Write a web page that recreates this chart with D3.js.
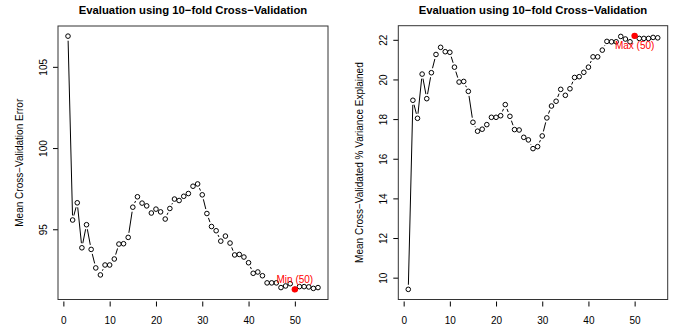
<!DOCTYPE html>
<html>
<head>
<meta charset="utf-8">
<script src="https://cdn.jsdelivr.net/npm/d3@7"></script>
<style>
  html, body { margin: 0; padding: 0; background: #fff; }
  svg { display: block; font-family: "Liberation Sans", Arial, Helvetica, sans-serif; }
</style>
</head>
<body>
<svg id="chart" width="678" height="327"></svg>
<script>
// Number of components used in the model (1..55)
const components = d3.range(1, 56);

// Mean cross-validation error for each number of components
const cvError = [106.89, 95.57, 96.63, 93.86, 95.28, 93.76, 92.62, 92.19, 92.80, 92.80,
  93.17, 94.09, 94.11, 94.50, 96.36, 97.00, 96.61, 96.44, 96.00, 96.24,
  96.07, 95.63, 96.28, 96.86, 96.77, 97.03, 97.20, 97.65, 97.79, 97.12,
  95.97, 95.17, 94.91, 94.27, 94.58, 94.15, 93.42, 93.45, 93.29, 92.94,
  92.29, 92.37, 92.14, 91.70, 91.70, 91.70, 91.41, 91.51, 91.65, 91.30,
  91.47, 91.47, 91.45, 91.36, 91.41];

// Mean cross-validated % variance explained for each number of components
const cvVarExplained = [9.41, 18.95, 18.04, 20.27, 19.03, 20.34, 21.26, 21.62, 21.40, 21.37,
  20.62, 19.87, 19.90, 19.40, 17.84, 17.39, 17.49, 17.72, 18.09, 18.09,
  18.17, 18.73, 18.14, 17.47, 17.45, 17.08, 16.95, 16.51, 16.61, 17.15,
  18.06, 18.66, 18.90, 19.50, 19.20, 19.53, 20.10, 20.14, 20.36, 20.62,
  21.14, 21.14, 21.48, 21.92, 21.90, 21.90, 22.17, 22.04, 21.90, 22.20,
  22.07, 22.07, 22.07, 22.12, 22.10];

const xTicks = [0, 10, 20, 30, 40, 50];
const errorTicks = [95, 100, 105];
const varTicks = [10, 12, 14, 16, 18, 20, 22];

const titleText = "Evaluation using 10\u2212fold Cross\u2212Validation";
const errorLabel = "Mean Cross\u2212Validation Error";
const varLabel = "Mean Cross\u2212Validated % Variance Explained";

const svg = d3.select("#chart");

// Pad a domain by 4% on each side, like R's default axis style
function padded(ext) {
  const r = ext[1] - ext[0];
  return [ext[0] - 0.04 * r, ext[1] + 0.04 * r];
}

function panel(opts) {
  const { left, right, top, bottom, values, yTicks, yLabel, mark, markText, markAbove } = opts;
  const g = svg.append("g");

  const x = d3.scaleLinear().domain(padded(d3.extent(components))).range([left, right]);
  const y = d3.scaleLinear().domain(padded(d3.extent(values))).range([bottom, top]);

  // title
  g.append("text")
    .attr("x", (left + right) / 2).attr("y", 14)
    .attr("text-anchor", "middle")
    .style("font-weight", "bold").style("font-size", "11.3px")
    .text(titleText);

  // x axis
  const xa = g.append("g").attr("transform", `translate(0,${bottom + 2})`)
    .call(d3.axisBottom(x).tickValues(xTicks).tickSize(5).tickPadding(10).tickFormat(d3.format("d")));
  xa.select(".domain").remove();
  xa.selectAll("text").style("font-size", "10px").attr("fill", "#000").style("font-family", "inherit");
  xa.selectAll("line").attr("stroke", "#000");

  // y axis with labels parallel to the axis
  const ya = g.append("g").attr("transform", `translate(${left},0)`)
    .call(d3.axisLeft(y).tickValues(yTicks).tickSize(5).tickFormat(d3.format("d")));
  ya.select(".domain").remove();
  ya.selectAll("line").attr("stroke", "#000");
  ya.selectAll("text")
    .attr("x", null).attr("dy", null)
    .attr("transform", "translate(-15,0) rotate(-90)")
    .attr("text-anchor", "middle")
    .attr("dominant-baseline", "central")
    .attr("fill", "#000")
    .style("font-size", "10px").style("font-family", "inherit");

  // y axis title
  g.append("text")
    .attr("transform", `translate(${left - 39},${(top + bottom) / 2}) rotate(-90)`)
    .attr("text-anchor", "middle")
    .attr("dominant-baseline", "central")
    .style("font-size", "10px")
    .text(yLabel);

  // frame
  g.append("rect")
    .attr("x", left).attr("y", top)
    .attr("width", right - left).attr("height", bottom - top)
    .attr("fill", "none").attr("stroke", "#333").attr("stroke-width", 1);

  // connecting segments, broken around each point marker
  const pts = components.map((c, i) => [x(c), y(values[i])]);
  const gap = 4.6;
  const segs = [];
  for (let i = 0; i < pts.length - 1; i++) {
    const [x0, y0] = pts[i], [x1, y1] = pts[i + 1];
    const d = Math.hypot(x1 - x0, y1 - y0);
    if (d > 2 * gap) {
      const ux = (x1 - x0) / d, uy = (y1 - y0) / d;
      segs.push([x0 + ux * gap, y0 + uy * gap, x1 - ux * gap, y1 - uy * gap]);
    }
  }
  g.append("g").selectAll("line").data(segs).join("line")
    .attr("x1", s => s[0]).attr("y1", s => s[1])
    .attr("x2", s => s[2]).attr("y2", s => s[3])
    .attr("stroke", "#000").attr("stroke-width", 1);

  // open circle markers
  g.append("g").selectAll("circle").data(components).join("circle")
    .attr("cx", c => x(c)).attr("cy", (c, i) => y(values[i]))
    .attr("r", 2.3)
    .attr("fill", "none").attr("stroke", "#000").attr("stroke-width", 1);

  // highlighted optimum
  g.append("circle")
    .attr("cx", x(components[mark])).attr("cy", y(values[mark]))
    .attr("r", 3.2).attr("fill", "#ff0000");
  g.append("text")
    .attr("x", x(components[mark]))
    .attr("y", y(values[mark]) + (markAbove ? -10 : 10))
    .attr("text-anchor", "middle")
    .attr("dominant-baseline", "central")
    .attr("fill", "#ff0000")
    .style("font-size", "10px")
    .text(markText + " (" + components[mark] + ")");
}

const minIdx = d3.minIndex(cvError);
const maxIdx = d3.maxIndex(cvVarExplained);

panel({
  left: 58, right: 328, top: 26, bottom: 299.5,
  values: cvError, yTicks: errorTicks, yLabel: errorLabel,
  mark: minIdx, markText: "Min", markAbove: true
});

panel({
  left: 398.3, right: 667.7, top: 25.7, bottom: 299.5,
  values: cvVarExplained, yTicks: varTicks, yLabel: varLabel,
  mark: maxIdx, markText: "Max", markAbove: false
});
</script>
</body>
</html>
